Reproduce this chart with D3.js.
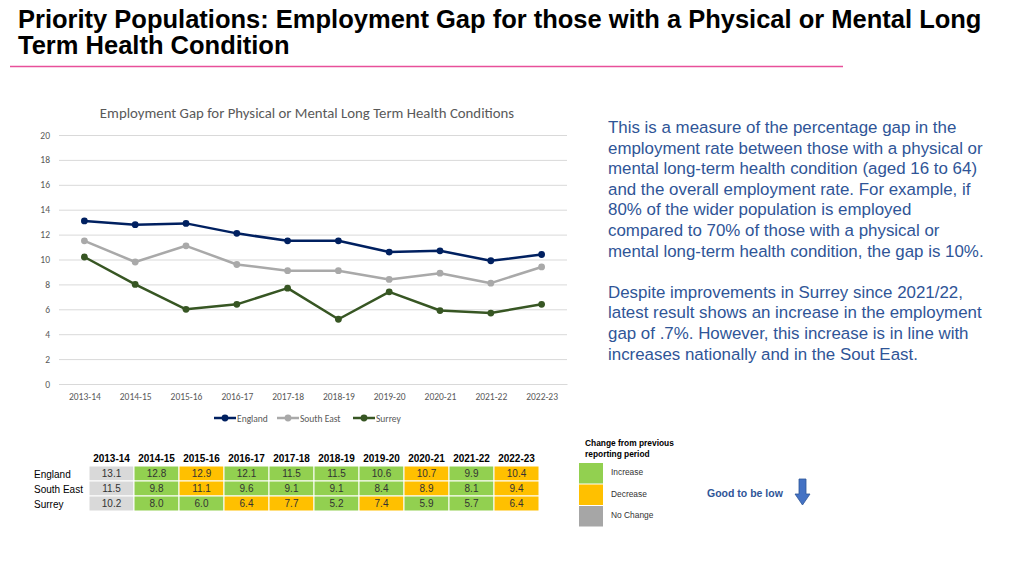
<!DOCTYPE html>
<html>
<head>
<meta charset="utf-8">
<script src="https://cdn.jsdelivr.net/npm/d3@7"></script>
<style>
  body { margin: 0; background: #fff; }
  svg { display: block; }
</style>
</head>
<body>
<div id="page"></div>
<script>
// data
var years = ["2013-14", "2014-15", "2015-16", "2016-17", "2017-18", "2018-19", "2019-20", "2020-21", "2021-22", "2022-23"];
var england = [13.1, 12.8, 12.9, 12.1, 11.5, 11.5, 10.6, 10.7, 9.9, 10.4];
var southEast = [11.5, 9.8, 11.1, 9.6, 9.1, 9.1, 8.4, 8.9, 8.1, 9.4];
var surrey = [10.2, 8.0, 6.0, 6.4, 7.7, 5.2, 7.4, 5.9, 5.7, 6.4];
// change status shown in the table: n = none/first, g = green, o = orange
var englandStatus = ["n", "g", "o", "g", "g", "g", "g", "o", "g", "o"];
var southEastStatus = ["n", "g", "o", "g", "g", "g", "g", "o", "g", "o"];
var surreyStatus = ["n", "g", "g", "o", "o", "g", "o", "g", "g", "o"];
var yTicks = [0, 2, 4, 6, 8, 10, 12, 14, 16, 18, 20];

var series = [
  { name: "England", values: england, status: englandStatus, color: "#002060" },
  { name: "South East", values: southEast, status: southEastStatus, color: "#a9a9a9" },
  { name: "Surrey", values: surrey, status: surreyStatus, color: "#375623" }
];

var svgWidth = 1024, svgHeight = 576;
var svg = d3.select("#page").append("svg")
  .attr("width", svgWidth)
  .attr("height", svgHeight);

// page title
var title = svg.append("text")
  .attr("font-family", "'Liberation Sans', Arial, sans-serif")
  .attr("font-weight", "bold")
  .attr("font-size", 25.5)
  .attr("fill", "#000");
title.append("tspan").attr("x", 18).attr("y", 28).text("Priority Populations: Employment Gap for those with a Physical or Mental Long");
title.append("tspan").attr("x", 18).attr("y", 54).text("Term Health Condition");

svg.append("line")
  .attr("x1", 10).attr("x2", 843)
  .attr("y1", 66.5).attr("y2", 66.5)
  .attr("stroke", "#e8509a")
  .attr("stroke-width", 1.5);

// chart
var margin = { left: 59, right: 457, top: 135, bottom: 192 };
var chartW = svgWidth - margin.left - margin.right;
var chartH = svgHeight - margin.top - margin.bottom;
var chartFont = "Carlito, 'Open Sans', 'Noto Sans', sans-serif";

var chartGroup = svg.append("g")
  .attr("transform", `translate(${margin.left}, ${margin.top})`);

var x = d3.scalePoint()
  .domain(years)
  .range([0, chartW])
  .padding(0.5);

var y = d3.scaleLinear()
  .domain([0, 20])
  .range([chartH, 0]);

svg.append("text")
  .attr("x", margin.left + chartW / 2 - 6)
  .attr("y", 118)
  .attr("text-anchor", "middle")
  .attr("font-family", chartFont)
  .attr("font-size", 14.8)
  .attr("fill", "#595959")
  .text("Employment Gap for Physical or Mental Long Term Health Conditions");

// gridlines + y labels
var yAxis = chartGroup.append("g")
  .call(d3.axisLeft(y).tickValues(yTicks).tickSize(-chartW).tickPadding(9));
yAxis.select(".domain").remove();
yAxis.selectAll(".tick line").attr("stroke", "#d9d9d9");
yAxis.selectAll(".tick text")
  .attr("font-family", chartFont)
  .attr("font-size", 9.5)
  .attr("fill", "#595959");

var xAxis = chartGroup.append("g")
  .attr("transform", `translate(0, ${chartH})`)
  .call(d3.axisBottom(x).tickSize(0).tickPadding(9));
xAxis.select(".domain").attr("stroke", "#d9d9d9");
xAxis.selectAll(".tick text")
  .attr("font-family", chartFont)
  .attr("font-size", 9.5)
  .attr("fill", "#595959");

var line = d3.line()
  .x((d, i) => x(years[i]))
  .y(d => y(d));

series.forEach(function(s) {
  chartGroup.append("path")
    .datum(s.values)
    .attr("fill", "none")
    .attr("stroke", s.color)
    .attr("stroke-width", 2.5)
    .attr("stroke-linejoin", "round")
    .attr("d", line);
  chartGroup.selectAll(null)
    .data(s.values)
    .enter()
    .append("circle")
    .attr("cx", (d, i) => x(years[i]))
    .attr("cy", d => y(d))
    .attr("r", 3.4)
    .attr("fill", s.color);
});

// legend under chart
var legendX = [214, 277, 353];
var legend = svg.append("g").attr("transform", "translate(0, 418)");
series.forEach(function(s, i) {
  var g = legend.append("g").attr("transform", `translate(${legendX[i]}, 0)`);
  g.append("line").attr("x1", 0).attr("x2", 22).attr("stroke", s.color).attr("stroke-width", 2.5);
  g.append("circle").attr("cx", 11).attr("r", 3.4).attr("fill", s.color);
  g.append("text")
    .attr("x", 23).attr("y", 3.5)
    .attr("font-family", chartFont)
    .attr("font-size", 9.5)
    .attr("fill", "#595959")
    .text(s.name);
});

// right hand commentary
var bodyFont = "'Liberation Sans', Arial, sans-serif";
var para = [
  "This is a measure of the percentage gap in the",
  "employment rate between those with a physical or",
  "mental long-term health condition (aged 16 to 64)",
  "and the overall employment rate. For example, if",
  "80% of the wider population is employed",
  "compared to 70% of those with a physical or",
  "mental long-term health condition, the gap is 10%.",
  "",
  "Despite improvements in Surrey since 2021/22,",
  "latest result shows an increase in the employment",
  "gap of .7%. However, this increase is in line with",
  "increases nationally and in the Sout East."
];
svg.append("g").selectAll("text")
  .data(para)
  .enter()
  .append("text")
  .attr("x", 608)
  .attr("y", (d, i) => 133 + i * 20.6)
  .attr("font-family", bodyFont)
  .attr("font-size", 16.9)
  .attr("fill", "#2f5597")
  .text(d => d);

// data table
var colX = d3.scaleBand()
  .domain(years)
  .range([89, 539]);
var rowY = d3.scaleBand()
  .domain(series.map(s => s.name))
  .range([466, 511]);
var statusColor = { n: "#d9d9d9", g: "#92d050", o: "#ffc000" };

var table = svg.append("g");
table.selectAll(".hdr")
  .data(years)
  .enter()
  .append("text")
  .attr("x", d => colX(d) + colX.bandwidth() / 2)
  .attr("y", 462)
  .attr("text-anchor", "middle")
  .attr("font-family", bodyFont)
  .attr("font-weight", "bold")
  .attr("font-size", 10)
  .text(d => d);

series.forEach(function(s) {
  table.append("text")
    .attr("x", 34)
    .attr("y", rowY(s.name) + rowY.bandwidth() / 2 + 4)
    .attr("font-family", bodyFont)
    .attr("font-size", 10)
    .text(s.name);
  var row = table.selectAll(null)
    .data(s.values)
    .enter()
    .append("g");
  row.append("rect")
    .attr("x", (d, i) => colX(years[i]))
    .attr("y", rowY(s.name))
    .attr("width", colX.bandwidth())
    .attr("height", rowY.bandwidth())
    .attr("fill", (d, i) => statusColor[s.status[i]])
    .attr("stroke", "#fff")
    .attr("stroke-width", 1);
  row.append("text")
    .attr("x", (d, i) => colX(years[i]) + colX.bandwidth() / 2)
    .attr("y", rowY(s.name) + rowY.bandwidth() / 2 + 3)
    .attr("text-anchor", "middle")
    .attr("font-family", bodyFont)
    .attr("font-size", 10)
    .attr("fill", "#333")
    .text(d => d.toFixed(1));
});

// change legend
var key = svg.append("g");
var keyText = key.append("text")
  .attr("font-family", bodyFont)
  .attr("font-weight", "bold")
  .attr("font-size", 8.4)
  .attr("fill", "#000");
keyText.append("tspan").attr("x", 585).attr("y", 446).text("Change from previous");
keyText.append("tspan").attr("x", 585).attr("y", 457).text("reporting period");

var keyItems = [
  { label: "Increase", color: "#92d050" },
  { label: "Decrease", color: "#ffc000" },
  { label: "No Change", color: "#a6a6a6" }
];
keyItems.forEach(function(k, i) {
  key.append("rect")
    .attr("x", 579).attr("y", 463 + i * 21.5)
    .attr("width", 24).attr("height", 20.5)
    .attr("fill", k.color);
  key.append("text")
    .attr("x", 611).attr("y", 475 + i * 21.5)
    .attr("font-family", bodyFont)
    .attr("font-size", 8.4)
    .attr("fill", "#333")
    .text(k.label);
});

svg.append("text")
  .attr("x", 707).attr("y", 497)
  .attr("font-family", bodyFont)
  .attr("font-weight", "bold")
  .attr("font-size", 10.5)
  .attr("fill", "#2f5597")
  .text("Good to be low");

// down arrow
svg.append("path")
  .attr("d", "M799,479 L806,479 L806,494 L810,494 L802.5,505 L795,494 L799,494 Z")
  .attr("fill", "#4472c4")
  .attr("stroke", "#2f5597")
  .attr("stroke-width", 0.8);
</script>
</body>
</html>
